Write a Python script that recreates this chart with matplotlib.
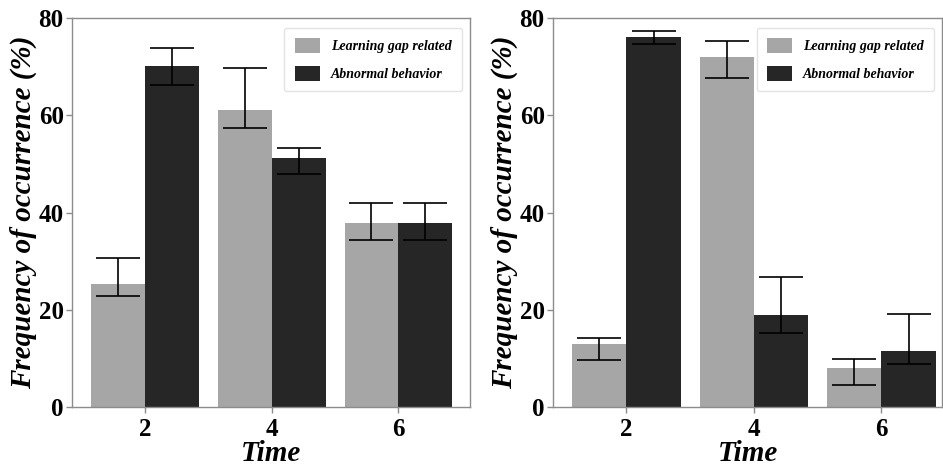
import numpy as np
import matplotlib
matplotlib.use('Agg')
import matplotlib.pyplot as plt

# data
times = [2, 4, 6]
series_names = ['Learning gap related', 'Abnormal behavior']

# left panel: bar height, upper error end, lower error end
left_gap = [25.4, 61.1, 37.9]
left_gap_hi = [30.6, 69.7, 42.0]
left_gap_lo = [22.9, 57.3, 34.4]
left_abn = [70.2, 51.2, 37.9]
left_abn_hi = [73.9, 53.2, 42.0]
left_abn_lo = [66.2, 47.9, 34.4]

# right panel
right_gap = [12.9, 71.9, 8.0]
right_gap_hi = [14.1, 75.3, 9.8]
right_gap_lo = [9.6, 67.6, 4.5]
right_abn = [76.0, 18.9, 11.5]
right_abn_hi = [77.4, 26.7, 19.2]
right_abn_lo = [74.7, 15.2, 8.8]

plt.rcParams['font.family'] = ['Liberation Serif', 'DejaVu Serif']
plt.rcParams['font.weight'] = 'bold'

gray = '#a6a6a6'
dark = '#262626'
spine_col = '#8c8c8c'
w = 0.85

fig = plt.figure(figsize=(9.43, 4.65), dpi=100)
ax1 = fig.add_axes([0.0764, 0.1247, 0.4220, 0.8366])
ax2 = fig.add_axes([0.5865, 0.1247, 0.4125, 0.8366])


def panel(ax, gap, gap_hi, gap_lo, abn, abn_hi, abn_lo, xmax):
    x = np.array(times, dtype=float)
    gap = np.array(gap)
    abn = np.array(abn)
    gerr = [gap - np.array(gap_lo), np.array(gap_hi) - gap]
    aerr = [abn - np.array(abn_lo), np.array(abn_hi) - abn]
    ax.bar(x - w / 2, gap, w, color=gray, label=series_names[0], zorder=2)
    ax.bar(x + w / 2, abn, w, color=dark, label=series_names[1], zorder=2)
    ax.errorbar(x - w / 2, gap, yerr=gerr, fmt='none', ecolor='black',
                elinewidth=1.2, capsize=16, capthick=1.2, zorder=3)
    ax.errorbar(x + w / 2, abn, yerr=aerr, fmt='none', ecolor='black',
                elinewidth=1.2, capsize=16, capthick=1.2, zorder=3)
    ax.set_xlim(0.85, xmax)
    ax.set_ylim(0, 80)
    ax.set_xticks(times)
    ax.set_yticks([0, 20, 40, 60, 80])
    for s in ax.spines.values():
        s.set_color(spine_col)
        s.set_linewidth(1.0)
    ax.tick_params(axis='both', colors=spine_col, labelcolor='black',
                   labelsize=18, length=4, width=1)
    ax.tick_params(axis='x', pad=4)
    ax.tick_params(axis='y', pad=2)
    for lab in ax.get_xticklabels() + ax.get_yticklabels():
        lab.set_fontweight('bold')
    ax.set_xlabel('Time', fontsize=21, fontweight='bold', style='italic')
    ax.xaxis.set_label_coords(0.5, -0.084)
    ax.set_ylabel('Frequency of occurrence (%)', fontsize=21,
                  fontweight='bold', style='italic', labelpad=1)
    leg = ax.legend(loc='upper right', bbox_to_anchor=(0.98, 0.975),
                    borderaxespad=0,
                    prop={'size': 10, 'weight': 'bold', 'style': 'italic'},
                    handlelength=1.8, handleheight=1.3, handletextpad=0.8,
                    borderpad=0.75, labelspacing=0.9, frameon=True,
                    fancybox=True)
    leg.get_frame().set_edgecolor('#dddddd')
    leg.get_frame().set_linewidth(1.0)


panel(ax1, left_gap, left_gap_hi, left_gap_lo,
      left_abn, left_abn_hi, left_abn_lo, 7.13)
panel(ax2, right_gap, right_gap_hi, right_gap_lo,
      right_abn, right_abn_hi, right_abn_lo, 6.95)

plt.savefig('out.png', dpi=100)
